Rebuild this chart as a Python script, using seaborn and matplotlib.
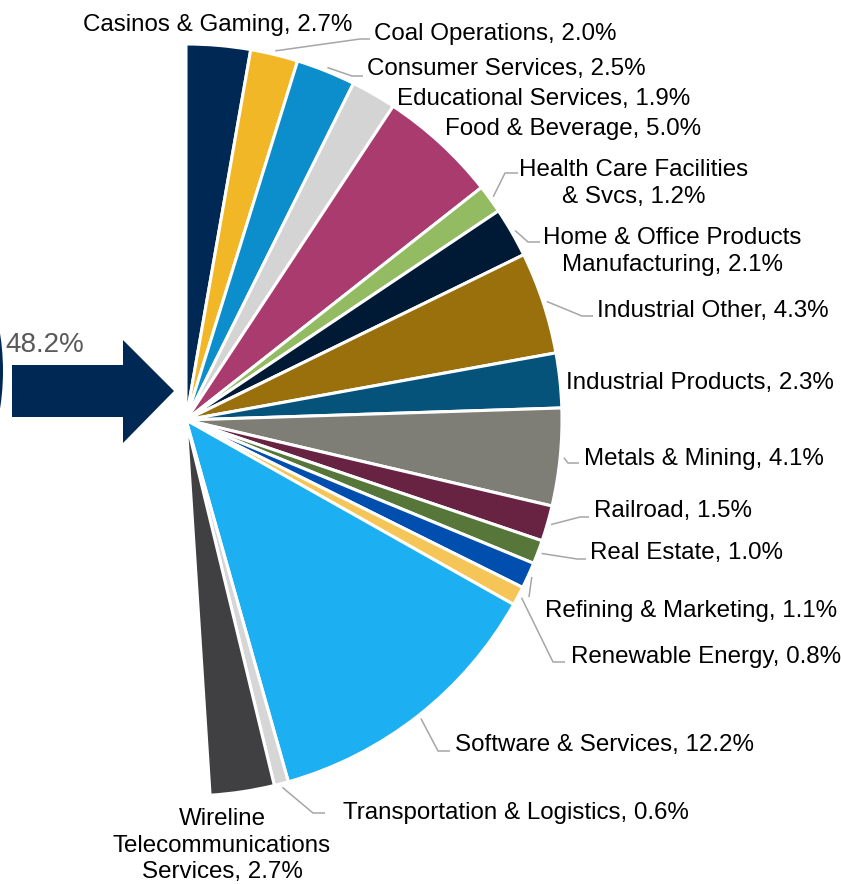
import matplotlib
matplotlib.use("Agg")
import matplotlib.pyplot as plt
import seaborn as sns
import numpy as np
from matplotlib.patches import Polygon, Circle

# ---------------- data ----------------
sectors = ["Casinos & Gaming", "Coal Operations", "Consumer Services",
           "Educational Services", "Food & Beverage",
           "Health Care Facilities\n& Svcs",
           "Home & Office Products\nManufacturing", "Industrial Other",
           "Industrial Products", "Metals & Mining", "Railroad",
           "Real Estate", "Refining & Marketing", "Renewable Energy",
           "Software & Services", "Transportation & Logistics",
           "Wireline\nTelecommunications\nServices"]
shares = [2.7, 2.0, 2.5, 1.9, 5.0, 1.2, 2.1, 4.3, 2.3, 4.1, 1.5, 1.0,
          1.1, 0.8, 12.2, 0.6, 2.7]
rest_share = 50.0          # hidden remainder of the pie (left side)
highlight_label = "48.2%"

colors = ["#002855", "#F2B726", "#0B8ECB", "#D4D4D4", "#AA3B6F",
          "#93BB62", "#001A35", "#9A700C", "#05537A", "#7E7E76",
          "#682343", "#56763A", "#004FAE", "#F6C557", "#1CAFF2",
          "#D6D6D6", "#404042"]

# ---------------- layout (pixels) ----------------
W, H = 841, 884
CX, CY, R = 186, 420, 376

def px(x, y):
    return (x - CX) / R, (CY - y) / R

# text anchor (x, y, ha), leader elbow (x, y) and leader end x
label_layout = [
    ((218, 22, "center"), None),
    ((374, 32, "left"), (360, 39, 370)),
    ((367, 67, "left"), (352, 76, 363)),
    ((397, 96, "left"), None),
    ((445, 127, "left"), None),
    ((634, 181, "center"), (505, 173, 518)),
    ((672, 249, "center"), (528, 242, 540)),
    ((597, 309, "left"), (582, 316, 593)),
    ((566, 380, "left"), None),
    ((584, 457, "left"), (568, 463, 579)),
    ((594, 509, "left"), (580, 517, 589)),
    ((590, 551, "left"), (577, 559, 586)),
    ((545, 609, "left"), (529, 597, 529)),
    ((571, 654, "left"), (553, 662, 565)),
    ((455, 743, "left"), (438, 751, 450)),
    ((343, 810, "left"), (313, 813, 325)),
    ((222, 843, "center"), None),
]
text_dy = 2.5

sns.set_theme(style="white")
plt.rcParams["font.family"] = ["Liberation Sans", "DejaVu Sans"]

fig = plt.figure(figsize=(W / 100, H / 100), dpi=100)
ax = fig.add_axes([0, 0, 1, 1])

vals = shares + [rest_share]
wedges, _ = ax.pie(vals, startangle=90, counterclock=False,
                   colors=colors + ["white"],
                   wedgeprops=dict(edgecolor="white", linewidth=2.2))
wedges[-1].set_visible(False)

total = sum(vals)
cum = np.cumsum([0] + shares)
fs = 17.4
for i, (lab, v) in enumerate(zip(sectors, shares)):
    (tx, ty, ha), leader = label_layout[i]
    txt = f"{lab}, {v:.1f}%"
    X, Y = px(tx, ty + text_dy)
    ax.text(X, Y, txt, ha=ha, va="center", fontsize=fs, color="black",
            multialignment="center", linespacing=1.29)
    if leader is not None:
        mid = (cum[i] + v / 2) / total * 2 * np.pi
        sx, sy = 1.01 * np.sin(mid), 1.01 * np.cos(mid)
        ex, ey = px(leader[0], leader[1])
        fx, _ = px(leader[2], leader[1])
        ax.plot([sx, ex, fx], [sy, ey, ey], color="#A6A6A6", lw=1.1,
                solid_capstyle="butt", zorder=0.5)

# arrow pointing to the pie
arrow_px = [(12, 365), (123, 365), (123, 340), (174, 391), (123, 443),
            (123, 417), (12, 417)]
ax.add_patch(Polygon([px(x, y) for x, y in arrow_px], closed=True,
                     facecolor="#002855", edgecolor="none"))
# edge of the neighbouring pie on the left
cx0, cy0 = px(-239, 371)
ax.add_patch(Circle((cx0, cy0), 242 / R, facecolor="#002855",
                    edgecolor="none"))
hx, hy = px(5, 345)
ax.text(hx, hy, highlight_label, ha="left", va="center", fontsize=20,
        color="#595959")

ax.set_xlim(-CX / R, (W - CX) / R)
ax.set_ylim((CY - H) / R, CY / R)
ax.set_aspect("auto")
ax.axis("off")

fig.savefig("out.png", dpi=100, facecolor="white")
